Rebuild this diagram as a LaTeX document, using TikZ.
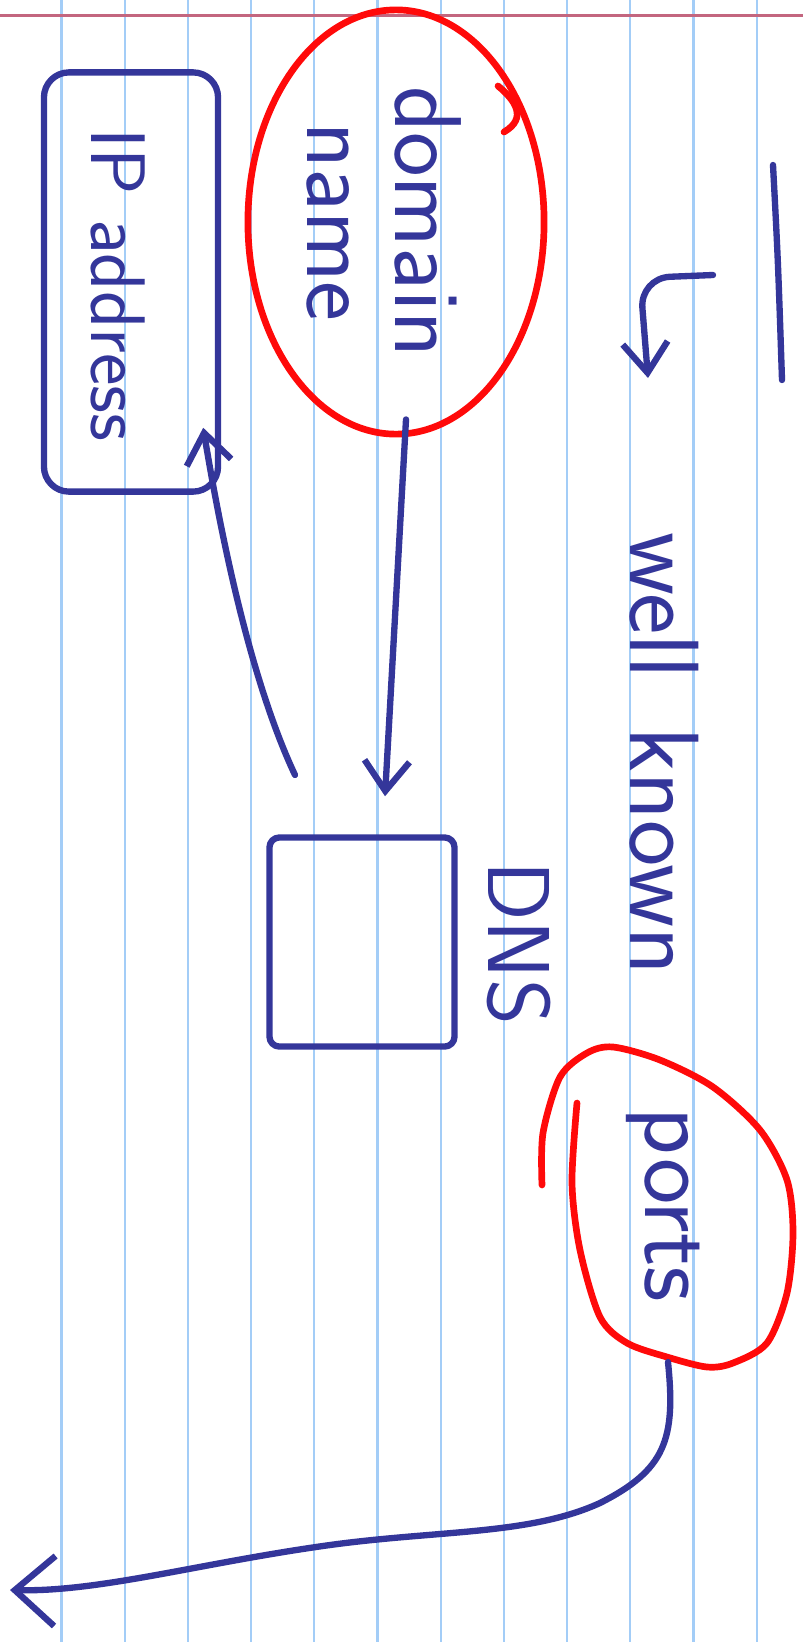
\documentclass[tikz,border=0pt]{standalone}
\definecolor{inkBlue}{HTML}{34369A}
\definecolor{inkRed}{HTML}{FF0A0A}
\definecolor{ruleBlue}{HTML}{A3CDF7}
\definecolor{marginRed}{HTML}{C3667F}
\usepackage{tikz}
\usetikzlibrary{positioning,arrows.meta,calc,shapes.geometric}

\begin{document}
\begin{tikzpicture}[x=0.01cm,y=-0.01cm,font=\sffamily,
  ink/.style={inkBlue,line width=1.8pt,line cap=round,line join=round},
  ring/.style={draw=inkRed,line width=1.9pt,line cap=round},
  barb/.style={-{Straight Barb[length=3mm,width=4.5mm]}},
  word/.style={inkBlue,rotate=-90,inner sep=0pt,font=\sffamily\fontsize{27}{25}\selectfont}]
% paper
\useasboundingbox (0,0) rectangle (803,1642);
\fill[white] (0,0) rectangle (803,1642);
\foreach \k in {0,...,11} \draw[ruleBlue,line width=0.6pt] (61.5+63.2*\k,0) -- (61.5+63.2*\k,1642);
\draw[marginRed,line width=0.6pt] (0,15.5) -- (803,15.5);
% domain name
\node[ring,ellipse,minimum width=2.96cm,minimum height=4.24cm] (domain) at (396,222) {};
\draw[ring] (498,86) .. controls (515,100) and (528,118) .. (504,132);
\node[word,align=center] (domaintxt) at (384,222) {domain\\name};
% IP address
\node[ink,draw,rounded corners=2.5mm,minimum width=1.74cm,minimum height=4.19cm] (ip) at (131,282) {};
\node[word,font=\sffamily\fontsize{22}{22}\selectfont] (iptext) at (118,285) {IP address};
% DNS
\node[ink,draw,rounded corners=1mm,minimum width=1.85cm,minimum height=2.09cm] (dns) at (362,942) {};
\node[word,font=\sffamily\fontsize{25}{25}\selectfont] (dnslabel) at (519,943) {DNS};
% well known ports
\node[word,font=\sffamily\fontsize{28}{28}\selectfont] (wellknown) at (664,754) {well\hspace{0.5em}known};
\node[word,font=\sffamily\fontsize{28}{28}\selectfont] (ports) at (663,1205) {ports};
\draw[ring] plot[smooth] coordinates {(542,1185) (543,1133) (560,1077) (587,1053) (613,1047) (660,1060) (713,1087) (760,1130) (787,1180) (793,1233) (787,1293) (767,1343) (733,1363) (707,1367) (667,1357) (627,1343) (600,1317) (580,1250) (572,1183) (577,1103)};
% arrows
\draw[ink,barb] ([xshift=1mm,yshift=1.8mm]domain.south) -- ([xshift=2.3mm,yshift=3.8mm]dns.north);
\coordinate (backstart) at (295,775);
\draw[ink,barb] (backstart) .. controls (255,690) and (225,560) .. ([xshift=-1.8mm,yshift=6.7mm]ip.south east);
\coordinate (portout) at (668,1362);
\coordinate (exit) at (10,1590);
\draw[ink,-{Straight Barb[length=4mm,width=7mm]}] (portout) .. controls (676,1440) and (665,1470) .. (600,1503) .. controls (530,1535) and (440,1530) .. (330,1545) .. controls (200,1563) and (100,1592) .. (exit);
% marks top right
\draw[ink,barb,rounded corners=3mm] (713,275) -- (640,278) -- (648,378);
\draw[ink] (773,165) .. controls (778,260) .. (782,380);
\end{tikzpicture}
\end{document}
